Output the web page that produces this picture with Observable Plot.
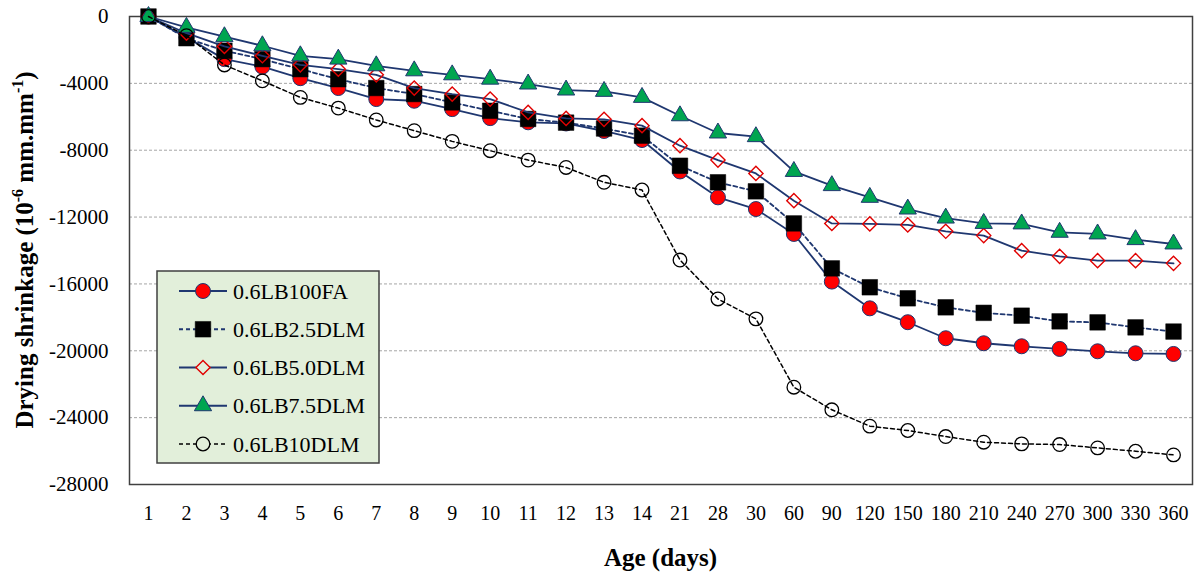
<!DOCTYPE html>
<html><head><meta charset="utf-8">
<script src="https://cdn.jsdelivr.net/npm/d3@7"></script>
<script src="https://cdn.jsdelivr.net/npm/@observablehq/plot@0.6"></script>
<style>
body{margin:0;background:#fff;}
#wrap{position:relative;width:1198px;height:574px;}
</style></head><body><div id="wrap"></div>
<script>
// ---- data ----
const ages = ["1","2","3","4","5","6","7","8","9","10","11","12","13","14","21","28","30","60","90","120","150","180","210","240","270","300","330","360"];
const seriesNames = ["0.6LB100FA","0.6LB2.5DLM","0.6LB5.0DLM","0.6LB7.5DLM","0.6LB10DLM"];
const lb100FA  = [0,-1250,-2550,-3000,-3690,-4280,-4940,-5040,-5540,-6080,-6330,-6400,-6850,-7390,-9270,-10820,-11520,-13010,-15860,-17460,-18290,-19250,-19550,-19730,-19890,-20030,-20150,-20190];
const lb25DLM  = [0,-1300,-2050,-2550,-3150,-3750,-4280,-4640,-5140,-5640,-6130,-6350,-6700,-7130,-8930,-9920,-10460,-12380,-15070,-16200,-16860,-17400,-17730,-17900,-18240,-18300,-18600,-18850];
const lb50DLM  = [0,-1000,-1790,-2350,-2890,-3150,-3490,-4280,-4640,-4940,-5740,-6100,-6150,-6530,-7730,-8590,-9390,-11020,-12380,-12410,-12470,-12850,-13110,-14010,-14350,-14610,-14610,-14770];
const lb75DLM  = [0,-650,-1210,-1750,-2350,-2550,-2950,-3250,-3490,-3750,-4040,-4400,-4480,-4840,-5940,-6970,-7190,-9270,-10120,-10820,-11520,-12060,-12380,-12410,-12910,-13010,-13350,-13610];
const lb10DLM  = [0,-1150,-2900,-3850,-4840,-5480,-6190,-6830,-7470,-8030,-8590,-9030,-9920,-10380,-14570,-16900,-18090,-22180,-23530,-24510,-24770,-25130,-25470,-25570,-25610,-25810,-26010,-26230];
const yTicks = [0,-4000,-8000,-12000,-16000,-20000,-24000,-28000];
const gridValues = [-4000,-8000,-12000,-16000,-20000,-24000];

// ---- styles ----
const navy = "#1f3770";
const styles = [
  {values: lb100FA, line: navy, lw: 1.8, dash: null, symbol: "circle", r: 7.5, fill: "#ff0000", stroke: navy, sw: 1},
  {values: lb25DLM, line: navy, lw: 1.8, dash: "4,3", symbol: "square", r: 8.8, fill: "#000000", stroke: "#000000", sw: 0.5},
  {values: lb50DLM, line: navy, lw: 1.8, dash: null, symbol: "diamond2", r: 6.4, fill: "none", stroke: "#e00000", sw: 1.4},
  {values: lb75DLM, line: navy, lw: 1.8, dash: null, symbol: "triangle", r: 6.4, fill: "#00a550", stroke: navy, sw: 1},
  {values: lb10DLM, line: "#000000", lw: 1.5, dash: "4,3", symbol: "circle", r: 6.8, fill: "none", stroke: "#000000", sw: 1.3}
];
styles.forEach((s, k) => s.name = seriesNames[k]);

const font = '"Liberation Serif","Times New Roman",serif';

const marks = [
  Plot.ruleY(gridValues, {stroke: "#a6a6a6", strokeDasharray: "3,2", strokeWidth: 1}),
  Plot.frame({stroke: "#404040", strokeWidth: 1.5}),
  Plot.axisX({tickSize: 0, tickPadding: 21, label: null, fontSize: 20}),
  Plot.axisY(yTicks, {tickSize: 0, tickPadding: 21, label: null, fontSize: 21, tickFormat: d => String(d)})
];
for (const s of styles) {
  const d = ages.map((a, i) => ({age: a, value: s.values[i], series: s.name}));
  marks.push(Plot.line(d, {x: "age", y: "value", stroke: s.line, strokeWidth: s.lw, strokeDasharray: s.dash}));
  marks.push(Plot.dot(d, {x: "age", y: "value", symbol: s.symbol, r: s.r, fill: s.fill, stroke: s.stroke, strokeWidth: s.sw}));
}

const chart = Plot.plot({
  width: 1198, height: 574,
  marginLeft: 129, marginRight: 6, marginTop: 16, marginBottom: 90,
  style: {fontFamily: font, color: "#000", background: "#fff", overflow: "visible"},
  x: {type: "point", domain: ages, padding: 0.5, round: false},
  y: {domain: [-28000, 0]},
  marks
});
document.getElementById("wrap").appendChild(chart);

const svg = d3.select(chart);
// axis titles
svg.append("text").attr("x", 660.5).attr("y", 566).attr("text-anchor", "middle")
  .attr("font-family", font).attr("font-weight", "bold").attr("font-size", 25).attr("fill", "#000")
  .text("Age (days)");
const yt = svg.append("text").attr("transform", "translate(33,250) rotate(-90)").attr("text-anchor", "middle")
  .attr("font-family", font).attr("font-weight", "bold").attr("font-size", 25).attr("fill", "#000");
yt.append("tspan").text("Drying shrinkage (10");
yt.append("tspan").attr("font-size", 16).attr("dy", -10).text("-6");
yt.append("tspan").attr("dy", 10).text(" mm.mm");
yt.append("tspan").attr("font-size", 16).attr("dy", -10).text("-1");
yt.append("tspan").attr("dy", 10).text(")");

// legend
const symMap = {circle: d3.symbolCircle, square: d3.symbolSquare, diamond2: d3.symbolDiamond2, triangle: d3.symbolTriangle};
const lg = svg.append("g").attr("transform", "translate(157,271)").attr("text-anchor", "start");
lg.append("rect").attr("width", 222).attr("height", 192).attr("fill", "#e2efda").attr("stroke", "#404040").attr("stroke-width", 1.5);
styles.forEach((s, k) => {
  const cy = 20 + 38.25 * k;
  const ln = lg.append("line").attr("x1", 22).attr("x2", 70).attr("y1", cy).attr("y2", cy)
    .attr("stroke", s.line).attr("stroke-width", s.lw);
  if (s.dash) ln.attr("stroke-dasharray", s.dash);
  lg.append("path").attr("transform", `translate(46,${cy})`)
    .attr("d", d3.symbol(symMap[s.symbol], s.r * s.r * Math.PI)())
    .attr("fill", s.fill === "none" ? "#e2efda" : s.fill).attr("stroke", s.stroke).attr("stroke-width", s.sw);
  lg.append("text").attr("x", 76).attr("y", cy).attr("dy", "0.35em").attr("text-anchor", "start")
    .attr("font-family", font).attr("font-size", 22).attr("fill", "#000").text(s.name);
});
</script></body></html>
